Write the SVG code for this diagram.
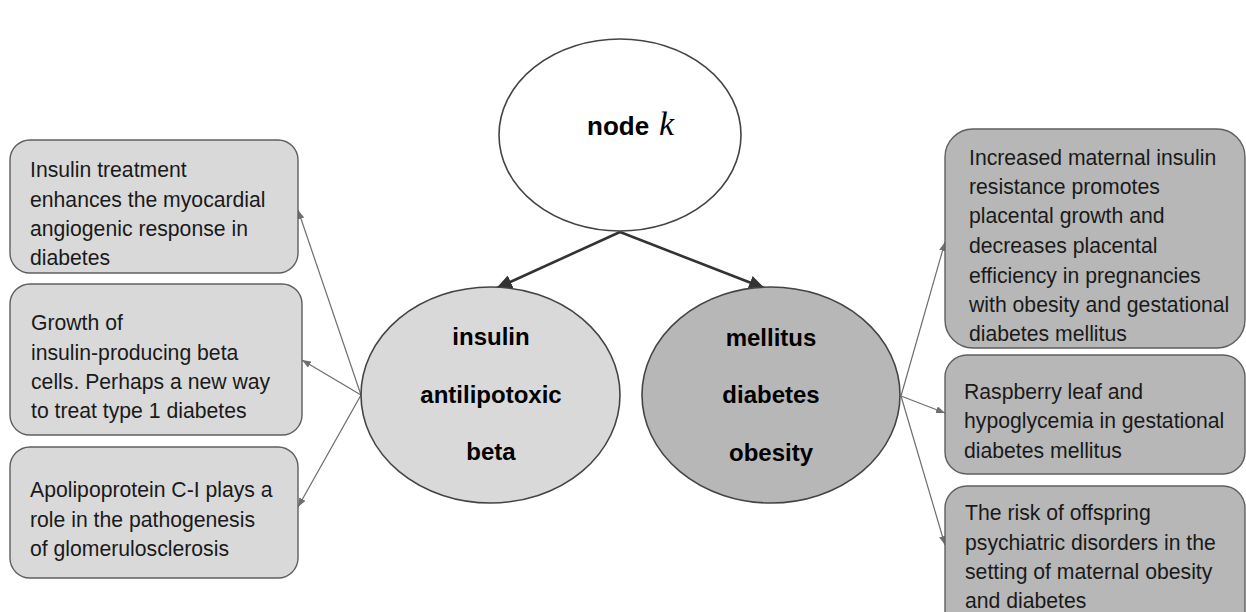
<svg xmlns="http://www.w3.org/2000/svg" width="1246" height="612" viewBox="0 0 1246 612">
<defs>
<style>
.bg{fill:#ffffff}
.box{stroke:#5f5f5f;stroke-width:1.4}
.light{fill:#d9d9d9}
.dark{fill:#b7b7b7}
.ell{stroke:#444444;stroke-width:1.6}
.txt{font-family:"Liberation Sans",Arial,sans-serif;font-size:21.2px;fill:#1a1a1a}
.lbl{font-family:"Liberation Sans",Arial,sans-serif;font-size:24px;font-weight:bold;fill:#000000;text-anchor:middle}
.main{stroke:#333333;stroke-width:2.6;fill:none}
.side{stroke:#6e6e6e;stroke-width:1.2;fill:none}
</style>
<marker id="bigArrow" markerUnits="userSpaceOnUse" markerWidth="16" markerHeight="14" refX="15" refY="7" orient="auto">
<path d="M0,0 L16,7 L0,14 Z" fill="#333333"/>
</marker>
<marker id="smallArrow" markerUnits="userSpaceOnUse" markerWidth="9" markerHeight="7" refX="9" refY="3.5" orient="auto">
<path d="M0,0 L9,3.5 L0,7 Z" fill="#6e6e6e"/>
</marker>
</defs>
<rect class="bg" x="0" y="0" width="1246" height="612"/>

<g id="connectors">
<line class="main" x1="620" y1="232" x2="497" y2="288" marker-end="url(#bigArrow)"/>
<line class="main" x1="620" y1="232" x2="764" y2="288" marker-end="url(#bigArrow)"/>
<line class="side" x1="361" y1="395" x2="298" y2="210" marker-end="url(#smallArrow)"/>
<line class="side" x1="361" y1="395" x2="302" y2="360" marker-end="url(#smallArrow)"/>
<line class="side" x1="361" y1="395" x2="298" y2="507" marker-end="url(#smallArrow)"/>
<line class="side" x1="901" y1="396" x2="945" y2="242" marker-end="url(#smallArrow)"/>
<line class="side" x1="901" y1="396" x2="945" y2="413" marker-end="url(#smallArrow)"/>
<line class="side" x1="901" y1="396" x2="945" y2="545" marker-end="url(#smallArrow)"/>
</g>

<g id="node-k">
<ellipse class="ell" cx="620" cy="135" rx="121" ry="96" fill="#ffffff"/>
<text x="587" y="135" font-family="'Liberation Sans',Arial,sans-serif" font-size="26" font-weight="bold" fill="#000">node</text>
<text x="659" y="135" font-family="'Liberation Serif','Times New Roman',serif" font-size="34" font-style="italic" fill="#000">k</text>
</g>

<g id="node-left">
<ellipse class="ell light" cx="490.5" cy="395" rx="129.5" ry="108"/>
<text class="lbl" x="491" y="345">insulin</text>
<text class="lbl" x="491" y="403">antilipotoxic</text>
<text class="lbl" x="491" y="460">beta</text>
</g>

<g id="node-right">
<ellipse class="ell dark" cx="771" cy="395" rx="129" ry="108"/>
<text class="lbl" x="771" y="346">mellitus</text>
<text class="lbl" x="771" y="403">diabetes</text>
<text class="lbl" x="771" y="461">obesity</text>
</g>

<g id="box-l1">
<rect class="box light" x="10" y="140" width="288" height="133" rx="20" ry="20"/>
<text class="txt" x="30" y="177">Insulin treatment</text>
<text class="txt" x="30" y="207">enhances the myocardial</text>
<text class="txt" x="30" y="236">angiogenic response in</text>
<text class="txt" x="30" y="265">diabetes</text>
</g>

<g id="box-l2">
<rect class="box light" x="10" y="284" width="292" height="151" rx="20" ry="20"/>
<text class="txt" x="31" y="330">Growth of</text>
<text class="txt" x="31" y="360">insulin-producing beta</text>
<text class="txt" x="31" y="389">cells. Perhaps a new way</text>
<text class="txt" x="31" y="418">to treat type 1 diabetes</text>
</g>

<g id="box-l3">
<rect class="box light" x="10" y="447" width="288" height="131" rx="20" ry="20"/>
<text class="txt" x="30" y="497">Apolipoprotein C-I plays a</text>
<text class="txt" x="30" y="527">role in the pathogenesis</text>
<text class="txt" x="30" y="556">of glomerulosclerosis</text>
</g>

<g id="box-r1">
<rect class="box dark" x="945" y="129" width="300" height="219" rx="28" ry="28"/>
<text class="txt" x="969" y="165">Increased maternal insulin</text>
<text class="txt" x="969" y="194">resistance promotes</text>
<text class="txt" x="969" y="223">placental growth and</text>
<text class="txt" x="969" y="253">decreases placental</text>
<text class="txt" x="969" y="283">efficiency in pregnancies</text>
<text class="txt" x="969" y="312">with obesity and gestational</text>
<text class="txt" x="969" y="341">diabetes mellitus</text>
</g>

<g id="box-r2">
<rect class="box dark" x="945" y="355" width="300" height="119" rx="22" ry="22"/>
<text class="txt" x="964" y="399">Raspberry leaf and</text>
<text class="txt" x="964" y="428">hypoglycemia in gestational</text>
<text class="txt" x="964" y="458">diabetes mellitus</text>
</g>

<g id="box-r3">
<rect class="box dark" x="945" y="486" width="300" height="150" rx="22" ry="22"/>
<text class="txt" x="965" y="520">The risk of offspring</text>
<text class="txt" x="965" y="550">psychiatric disorders in the</text>
<text class="txt" x="965" y="579">setting of maternal obesity</text>
<text class="txt" x="965" y="608">and diabetes</text>
</g>
</svg>
